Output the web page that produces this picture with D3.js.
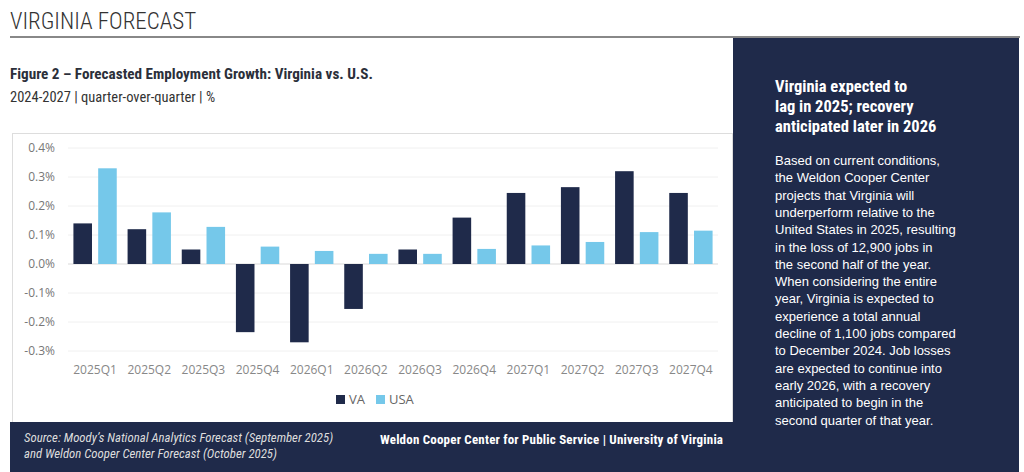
<!DOCTYPE html><html><head><meta charset="utf-8"><script src="https://cdn.jsdelivr.net/npm/d3@7"></script>
<style>body{margin:0;background:#fff;font-family:"Liberation Sans Narrow","Roboto Condensed","Liberation Sans",sans-serif}</style></head><body>
<svg id="c" width="1024" height="472"></svg>
<script>
const categories=["2025Q1","2025Q2","2025Q3","2025Q4","2026Q1","2026Q2","2026Q3","2026Q4","2027Q1","2027Q2","2027Q3","2027Q4"];
const vaValues=[0.14,0.12,0.05,-0.235,-0.27,-0.155,0.05,0.16,0.245,0.265,0.32,0.245];
const usaValues=[0.33,0.178,0.128,0.06,0.045,0.035,0.035,0.052,0.064,0.076,0.11,0.115];
const yTicks=[-0.3,-0.2,-0.1,0,0.1,0.2,0.3,0.4];
const navy="#1f2a4a",blue="#75c8ea";
const svg=d3.select("#c");
svg.append("text").attr("x",10).attr("y",29).attr("font-size",23).attr("font-weight",300).attr("fill","#333").text("VIRGINIA FORECAST");
svg.append("rect").attr("x",10).attr("y",36).attr("width",1010).attr("height",2).attr("fill","#888");
svg.append("text").attr("x",10).attr("y",79).attr("font-size",15.2).attr("font-weight","bold").attr("fill","#2b2f3a").text("Figure 2 – Forecasted Employment Growth: Virginia vs. U.S.");
svg.append("text").attr("x",10).attr("y",102).attr("font-size",14.5).attr("fill","#333").text("2024-2027 | quarter-over-quarter | %");
svg.append("rect").attr("x",12.5).attr("y",133.5).attr("width",720).attr("height",290).attr("fill","#fff").attr("stroke","#ddd");
svg.append("rect").attr("x",733).attr("y",38).attr("width",286).attr("height",434).attr("fill",navy);
const head=["Virginia expected to","lag in 2025; recovery","anticipated later in 2026"];
head.forEach((t,i)=>svg.append("text").attr("x",775).attr("y",92+i*20).attr("font-size",16.5).attr("font-weight","bold").attr("fill","#fff").text(t));
const body=["Based on current conditions,","the Weldon Cooper Center","projects that Virginia will","underperform relative to the","United States in 2025, resulting","in the loss of 12,900 jobs in","the second half of the year.","When considering the entire","year, Virginia is expected to","experience a total annual","decline of 1,100 jobs compared","to December 2024. Job losses","are expected to continue into","early 2026, with a recovery","anticipated to begin in the","second quarter of that year."];
body.forEach((t,i)=>svg.append("text").attr("x",775).attr("y",165+i*17.3).attr("font-size",13).attr("fill","#fff").attr("font-family","Liberation Sans").text(t));
svg.append("rect").attr("x",10).attr("y",422).attr("width",723).attr("height",50).attr("fill",navy);
svg.append("text").attr("x",24).attr("y",442).attr("font-size",12.8).attr("font-style","italic").attr("fill","#ddd").text("Source: Moody’s National Analytics Forecast (September 2025)");
svg.append("text").attr("x",24).attr("y",458).attr("font-size",12.8).attr("font-style","italic").attr("fill","#ddd").text("and Weldon Cooper Center Forecast (October 2025)");
svg.append("text").attr("x",380).attr("y",444).attr("font-size",13).attr("font-weight","bold").attr("fill","#fff").attr("textLength",343).text("Weldon Cooper Center for Public Service | University of Virginia");
const x=d3.scaleBand().domain(categories).range([68,718]).paddingInner(0.2).paddingOuter(0.1);
const x1=d3.scaleBand().domain(["va","usa"]).range([0,x.bandwidth()]).paddingInner(0.25);
const y=d3.scaleLinear().domain([-0.3,0.4]).range([351,148]);
const g=svg.append("g").attr("font-family","'Open Sans',sans-serif");
yTicks.forEach(t=>{
 g.append("line").attr("x1",68).attr("x2",718).attr("y1",y(t)).attr("y2",y(t)).attr("stroke",t===0?"#d9d9d9":"#f0f0f0");
 g.append("text").attr("x",55).attr("y",y(t)+4).attr("text-anchor","end").attr("font-size",12).attr("fill","#777").text(t.toFixed(1)+"%");
});
categories.forEach((c,i)=>{
 [["va",vaValues[i],navy],["usa",usaValues[i],blue]].forEach(([k,v,col])=>{
  g.append("rect").attr("x",x(c)+x1(k)).attr("width",x1.bandwidth()).attr("y",y(Math.max(0,v))).attr("height",Math.abs(y(v)-y(0))).attr("fill",col);
 });
 g.append("text").attr("x",x(c)+x.bandwidth()/2).attr("y",374).attr("text-anchor","middle").attr("font-size",12).attr("fill","#888").text(c);
});
const leg=[["VA",navy,336],["USA",blue,376]];
leg.forEach(([t,col,lx])=>{g.append("rect").attr("x",lx).attr("y",395).attr("width",9).attr("height",9).attr("fill",col);
 g.append("text").attr("x",lx+13).attr("y",404).attr("font-size",13).attr("fill","#666").text(t);});
</script></body></html>
